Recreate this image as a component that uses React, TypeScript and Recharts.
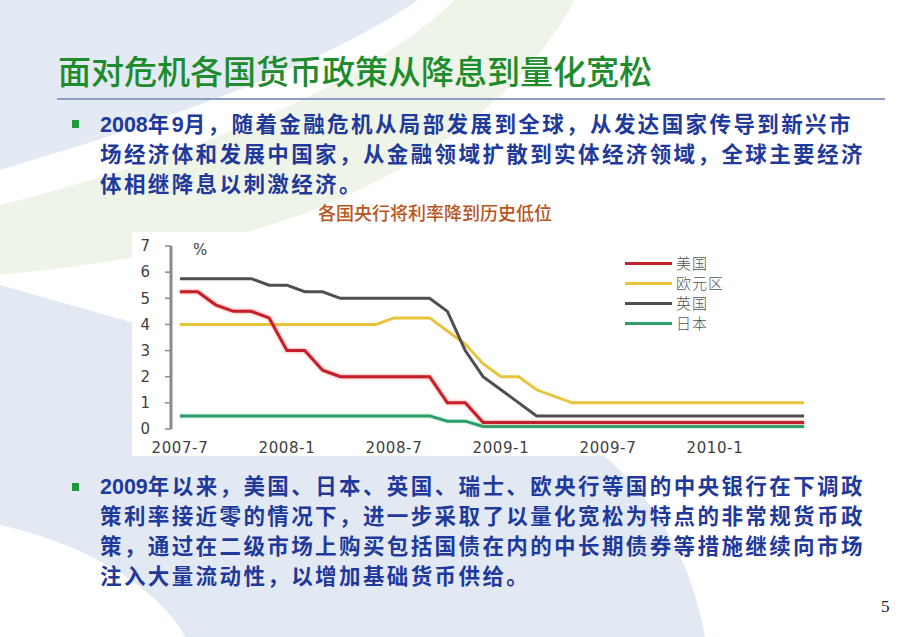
import React from 'react';
import { LineChart, Line, XAxis, YAxis, Legend } from 'recharts';

const months = [
  '2007-7', '2007-8', '2007-9', '2007-10', '2007-11', '2007-12',
  '2008-1', '2008-2', '2008-3', '2008-4', '2008-5', '2008-6',
  '2008-7', '2008-8', '2008-9', '2008-10', '2008-11', '2008-12',
  '2009-1', '2009-2', '2009-3', '2009-4', '2009-5', '2009-6',
  '2009-7', '2009-8', '2009-9', '2009-10', '2009-11', '2009-12',
  '2010-1', '2010-2', '2010-3', '2010-4', '2010-5', '2010-6',
];

const usRate = [
  5.25, 5.25, 4.75, 4.5, 4.5, 4.25,
  3.0, 3.0, 2.25, 2.0, 2.0, 2.0,
  2.0, 2.0, 2.0, 1.0, 1.0, 0.25,
  0.25, 0.25, 0.25, 0.25, 0.25, 0.25,
  0.25, 0.25, 0.25, 0.25, 0.25, 0.25,
  0.25, 0.25, 0.25, 0.25, 0.25, 0.25,
];

const euroRate = [
  4.0, 4.0, 4.0, 4.0, 4.0, 4.0,
  4.0, 4.0, 4.0, 4.0, 4.0, 4.0,
  4.25, 4.25, 4.25, 3.75, 3.25, 2.5,
  2.0, 2.0, 1.5, 1.25, 1.0, 1.0,
  1.0, 1.0, 1.0, 1.0, 1.0, 1.0,
  1.0, 1.0, 1.0, 1.0, 1.0, 1.0,
];

const ukRate = [
  5.75, 5.75, 5.75, 5.75, 5.75, 5.5,
  5.5, 5.25, 5.25, 5.0, 5.0, 5.0,
  5.0, 5.0, 5.0, 4.5, 3.0, 2.0,
  1.5, 1.0, 0.5, 0.5, 0.5, 0.5,
  0.5, 0.5, 0.5, 0.5, 0.5, 0.5,
  0.5, 0.5, 0.5, 0.5, 0.5, 0.5,
];

const jpRate = [
  0.5, 0.5, 0.5, 0.5, 0.5, 0.5,
  0.5, 0.5, 0.5, 0.5, 0.5, 0.5,
  0.5, 0.5, 0.5, 0.3, 0.3, 0.1,
  0.1, 0.1, 0.1, 0.1, 0.1, 0.1,
  0.1, 0.1, 0.1, 0.1, 0.1, 0.1,
  0.1, 0.1, 0.1, 0.1, 0.1, 0.1,
];

const xTickLabels = ['2007-7', '2008-1', '2008-7', '2009-1', '2009-7', '2010-1'];
const yTicks = [0, 1, 2, 3, 4, 5, 6, 7];
const seriesNames = ['美国', '欧元区', '英国', '日本'];

const titleText = '面对危机各国货币政策从降息到量化宽松';
const bullet1Lines = [
  '2008年9月，随着金融危机从局部发展到全球，从发达国家传导到新兴市',
  '场经济体和发展中国家，从金融领域扩散到实体经济领域，全球主要经济',
  '体相继降息以刺激经济。',
];
const chartTitle = '各国央行将利率降到历史低位';
const bullet2Lines = [
  '2009年以来，美国、日本、英国、瑞士、欧央行等国的中央银行在下调政',
  '策利率接近零的情况下，进一步采取了以量化宽松为特点的非常规货币政',
  '策，通过在二级市场上购买包括国债在内的中长期债券等措施继续向市场',
  '注入大量流动性，以增加基础货币供给。',
];

const data = months.map((m, i) => ({
  i,
  month: m,
  us: usRate[i],
  euro: euroRate[i],
  uk: ukRate[i],
  jp: jpRate[i],
}));

const labelTickIdx = xTickLabels.map((l) => months.indexOf(l));
const boundaryTicks = [...labelTickIdx.map((i) => i - 0.5), months.length - 0.5];
const xDomain = [-0.5, months.length - 0.5];

const CJK = '"Noto Sans CJK SC", "Noto Sans", sans-serif';
const BODY = '"Liberation Sans", "Noto Sans CJK SC", sans-serif';
const AXIS = '#8a8a8a';

const renderLegend = (props: any) => {
  const payload = props.payload || [];
  const items = seriesNames
    .map((n) => payload.find((p: any) => p.value === n))
    .filter(Boolean);
  return (
    <div style={{ fontFamily: CJK, fontSize: 15, fontWeight: 300, color: '#555' }}>
      {items.map((p: any) => (
        <div key={p.value} style={{ display: 'flex', alignItems: 'center', height: 20 }}>
          <span style={{ display: 'inline-block', width: 47, height: 3, background: p.color, marginRight: 4 }} />
          <span style={{ letterSpacing: 1, lineHeight: '20px' }}>{p.value}</span>
        </div>
      ))}
    </div>
  );
};

const Bullet = ({ top }: { top: number }) => (
  <div style={{ position: 'absolute', left: 72, top, width: 7, height: 8, background: '#1f9a3a' }} />
);

const bodyStyle: React.CSSProperties = {
  position: 'absolute',
  left: 100,
  fontFamily: BODY,
  fontSize: 21.5,
  letterSpacing: 2.4,
  lineHeight: '30px',
  fontWeight: 700,
  color: '#1f3a9b',
  whiteSpace: 'nowrap',
};

const TextLine = ({ text }: { text: string }) => (
  <div>
    {text.split(/(\d+)/).map((part, k) =>
      /^\d+$/.test(part) ? (
        <span key={k} style={{ letterSpacing: 0 }}>
          {part}
        </span>
      ) : (
        <span key={k}>{part}</span>
      )
    )}
  </div>
);

export default function App() {
  return (
    <div
      style={{
        position: 'absolute',
        left: 0,
        top: 0,
        width: 920,
        height: 637,
        overflow: 'hidden',
        background: '#ffffff',
        fontFamily: CJK,
      }}
    >
      <style>{`
        .glow-red .recharts-line-curve { filter: drop-shadow(0 0 1.5px rgba(255, 110, 110, 0.85)); }
        .glow-green .recharts-line-curve { filter: drop-shadow(0 0 1.2px rgba(120, 220, 170, 0.8)); }
      `}</style>
      <svg width={920} height={637} style={{ position: 'absolute', left: 0, top: 0 }}>
        <path d="M0,0 L418,0 C330,60 200,110 0,170 Z" fill="#e4eaf3" />
        <path d="M455,0 L575,0 C520,100 420,170 300,215 C200,250 100,265 0,275 L0,205 C180,160 360,90 455,0 Z" fill="#eef5e8" />
        <path d="M0,285 C160,330 400,400 560,425 C640,470 690,550 705,637 L0,637 Z" fill="#e2e9f3" />
        <path d="M0,525 C90,545 160,590 185,637 L0,637 Z" fill="#ffffff" />
      </svg>

      <div
        style={{
          position: 'absolute',
          left: 58,
          top: 54,
          fontSize: 33,
          lineHeight: '33px',
          color: '#1e8c2c',
          fontWeight: 500,
          whiteSpace: 'nowrap',
        }}
      >
        {titleText}
      </div>
      <div style={{ position: 'absolute', left: 57, top: 98, width: 828, height: 2, background: '#8d9ec4' }} />

      <Bullet top={120} />
      <div style={{ ...bodyStyle, top: 110 }}>
        {bullet1Lines.map((l) => (
          <TextLine key={l} text={l} />
        ))}
      </div>

      <div
        style={{
          position: 'absolute',
          left: 315,
          top: 201,
          width: 240,
          textAlign: 'center',
          fontSize: 18,
          lineHeight: '22px',
          fontWeight: 500,
          color: '#b9541c',
          whiteSpace: 'nowrap',
        }}
      >
        {chartTitle}
      </div>

      <div style={{ position: 'absolute', left: 132, top: 232, width: 698, height: 224, background: '#ffffff' }}>
        <LineChart width={698} height={224} data={data} margin={{ top: 14, right: 17, left: 0, bottom: 0 }}>
          <XAxis
            xAxisId="marks"
            type="number"
            dataKey="i"
            domain={xDomain}
            ticks={boundaryTicks}
            interval={0}
            height={0}
            tickSize={5}
            tickFormatter={() => ''}
            axisLine={{ stroke: AXIS, strokeWidth: 3 }}
            tickLine={{ stroke: AXIS, strokeWidth: 1.5 }}
          />
          <XAxis
            xAxisId="labels"
            type="number"
            dataKey="i"
            domain={xDomain}
            ticks={labelTickIdx}
            interval={0}
            height={27}
            tickSize={0}
            tickMargin={13}
            axisLine={false}
            tickLine={false}
            tickFormatter={(v: number) => months[v]}
            tick={{ fill: '#404040', fontSize: 15, fontFamily: '"DejaVu Sans", sans-serif', letterSpacing: 0.6 }}
          />
          <YAxis
            type="number"
            domain={[0, 7]}
            ticks={yTicks}
            interval={0}
            width={39}
            tickSize={6}
            tickMargin={15}
            axisLine={{ stroke: AXIS, strokeWidth: 3 }}
            tickLine={{ stroke: AXIS, strokeWidth: 1.5 }}
            tick={{ fill: '#404040', fontSize: 15, fontFamily: '"DejaVu Sans", sans-serif' }}
          />
          <Line xAxisId="labels" type="linear" dataKey="euro" name="欧元区" stroke="#e8c43c" strokeWidth={3} dot={false} activeDot={false} isAnimationActive={false} />
          <Line xAxisId="labels" className="glow-green" type="linear" dataKey="jp" name="日本" stroke="#2f9e6c" strokeWidth={3} dot={false} activeDot={false} isAnimationActive={false} />
          <Line xAxisId="labels" type="linear" dataKey="uk" name="英国" stroke="#4f4f4f" strokeWidth={3} dot={false} activeDot={false} isAnimationActive={false} />
          <Line xAxisId="labels" className="glow-red" type="linear" dataKey="us" name="美国" stroke="#c4202a" strokeWidth={3} dot={false} activeDot={false} isAnimationActive={false} />
          <Legend
            layout="vertical"
            align="center"
            verticalAlign="middle"
            content={renderLegend}
            wrapperStyle={{ left: 493, top: 21, width: 'auto', height: 'auto' }}
          />
        </LineChart>
        <div
          style={{
            position: 'absolute',
            left: 61,
            top: 9,
            fontSize: 15,
            color: '#444',
            fontFamily: '"DejaVu Sans", sans-serif',
          }}
        >
          %
        </div>
      </div>

      <Bullet top={483} />
      <div style={{ ...bodyStyle, top: 472 }}>
        {bullet2Lines.map((l) => (
          <TextLine key={l} text={l} />
        ))}
      </div>

      <div
        style={{
          position: 'absolute',
          left: 881,
          top: 597,
          fontSize: 17,
          lineHeight: '20px',
          color: '#222',
          fontFamily: '"Liberation Serif", serif',
        }}
      >
        5
      </div>
    </div>
  );
}
